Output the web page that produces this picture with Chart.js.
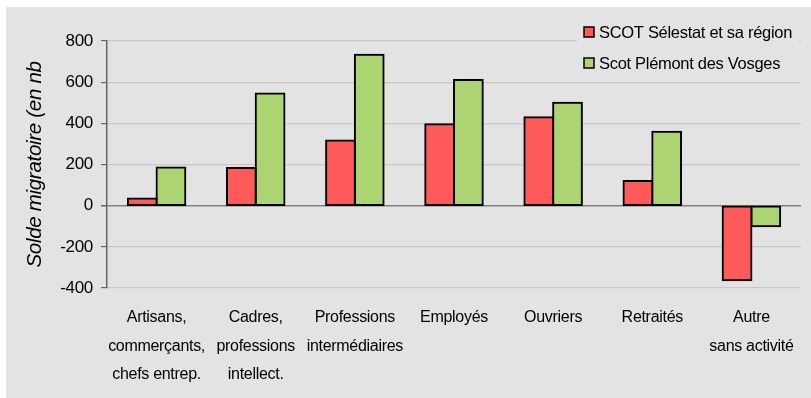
<!DOCTYPE html>
<html>
<head>
<meta charset="utf-8">
<script src="https://cdn.jsdelivr.net/npm/chart.js@4/dist/chart.umd.min.js"></script>
<style>
  html, body { margin: 0; padding: 0; background: #fff; }
  #wrap { position: absolute; left: 6px; top: 7px; width: 805px; height: 391px; background: #e3e3e3; }
</style>
</head>
<body>
<div id="wrap"><canvas id="chart" width="805" height="391"></canvas></div>
<script>
const categories = [
  ['Artisans,', 'commerçants,', 'chefs entrep.'],
  ['Cadres,', 'professions', 'intellect.'],
  ['Professions', 'intermédiaires'],
  'Employés',
  'Ouvriers',
  'Retraités',
  ['Autre', 'sans activité']
];
const seriesNames = ['SCOT Sélestat et sa région', 'Scot Plémont des Vosges'];
const selestat = [35, 183, 317, 395, 430, 120, -362];
const piemont = [186, 545, 733, 610, 500, 359, -100];
const yTicks = [-400, -200, 0, 200, 400, 600, 800];

const colors = ['#ff5a5a', '#acd473'];
const FONT = 'Liberation Sans';

// tighter lettering, reapplied after any canvas resize
const spacing = {
  id: 'spacing',
  beforeLayout(chart) { chart.ctx.letterSpacing = '-0.3px'; },
  beforeDraw(chart) { chart.ctx.letterSpacing = '-0.3px'; }
};

// legend box in the upper right corner of the plot
const legendBox = {
  id: 'legendBox',
  afterDraw(chart) {
    const ctx = chart.ctx;
    ctx.save();
    ctx.fillStyle = '#e3e3e3';
    ctx.fillRect(571, 8, 222, 62);
    ctx.font = '16.5px "' + FONT + '"';
    ctx.textBaseline = 'middle';
    seriesNames.forEach((name, i) => {
      const y = 25 + i * 31;
      ctx.fillStyle = colors[i];
      ctx.fillRect(578, y - 5, 10, 10);
      ctx.strokeStyle = '#000';
      ctx.lineWidth = 1.5;
      ctx.strokeRect(578, y - 5, 10, 10);
      ctx.fillStyle = '#000';
      ctx.fillText(name, 593, y + 1);
    });
    ctx.restore();
  }
};

new Chart(document.getElementById('chart'), {
  type: 'bar',
  data: {
    labels: categories,
    datasets: [selestat, piemont].map((d, i) => ({
      label: seriesNames[i],
      data: d,
      backgroundColor: colors[i],
      borderColor: '#000',
      borderWidth: 2,
      borderSkipped: false,
      inflateAmount: 1,
      categoryPercentage: 0.58,
      barPercentage: 1.0
    }))
  },
  options: {
    responsive: false,
    animation: false,
    layout: { padding: { left: 0, right: 10, top: 34, bottom: 0 } },
    plugins: { legend: { display: false }, tooltip: { enabled: false } },
    scales: {
      x: {
        border: { display: false },
        grid: { display: false },
        ticks: {
          color: '#000',
          maxRotation: 0,
          autoSkip: false,
          padding: 7,
          font: { family: FONT, size: 16, lineHeight: 1.8 }
        },
        afterFit(scale) { scale.height = 110; }
      },
      y: {
        min: -400,
        max: 800,
        afterBuildTicks(scale) { scale.ticks = yTicks.map(v => ({ value: v })); },
        border: { display: true, color: '#666', width: 1.5 },
        grid: {
          color: ctx => ctx.tick && ctx.tick.value === 0 ? '#808080' : '#c8c8c8',
          lineWidth: ctx => ctx.tick && ctx.tick.value === 0 ? 1.5 : 1.2,
          tickColor: '#666',
          tickLength: 6
        },
        ticks: {
          color: '#000',
          padding: 8,
          font: { family: FONT, size: 17 }
        },
        title: {
          display: true,
          text: 'Solde migratoire (en nb',
          color: '#000',
          padding: { top: 17, bottom: 0 },
          font: { family: FONT, size: 20.5, style: 'italic' }
        },
        afterFit(scale) { scale.width = 101; }
      }
    }
  },
  plugins: [spacing, legendBox]
});
</script>
</body>
</html>
